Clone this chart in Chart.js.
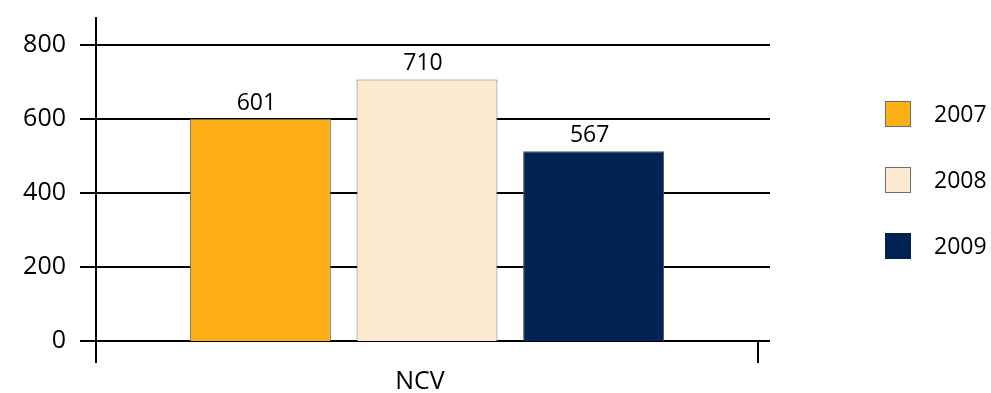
<!DOCTYPE html>
<html>
<head>
<meta charset="utf-8">
<script src="https://cdn.jsdelivr.net/npm/chart.js@4"></script>
<style>
  html, body { margin: 0; padding: 0; background: #fff; }
  #wrap { width: 991px; height: 393px; }
</style>
</head>
<body>
<div id="wrap"><canvas id="ncvChart" width="991" height="393"></canvas></div>
<script>
// data
const categories = ['NCV'];
const seriesNames = ['2007', '2008', '2009'];
const barHeights = [601, 707, 513];          // bar heights as drawn
const valueLabels = ['601', '710', '567'];   // numbers printed above the bars
const yTicks = [0, 200, 400, 600, 800];

const barColors = ['#FCAF17', '#FDEBD1', '#012353'];
const barBorders = ['#6f6f6f', '#6f6f6f', '#555555'];

const FONT = "'Open Sans', 'Noto Sans', sans-serif";

// grid lines, axis lines and end tick, drawn from the scales
const axisPlugin = {
  id: 'axisLines',
  beforeDatasetsDraw: (chart) => {
    const { ctx, chartArea, scales: { y } } = chart;
    ctx.save();
    ctx.strokeStyle = '#000';
    ctx.lineWidth = 2;
    yTicks.forEach(v => {
      const py = Math.round(y.getPixelForValue(v));
      ctx.beginPath();
      ctx.moveTo(chartArea.left - 16, py);
      ctx.lineTo(chartArea.right + 12, py);
      ctx.stroke();
    });
    ctx.restore();
  },
  afterDatasetsDraw: (chart) => {
    const { ctx, chartArea, scales: { y } } = chart;
    const base = Math.round(y.getPixelForValue(0));
    ctx.save();
    ctx.strokeStyle = '#000';
    ctx.lineWidth = 2;
    // vertical axis
    ctx.beginPath();
    ctx.moveTo(chartArea.left, chartArea.top - 28);
    ctx.lineTo(chartArea.left, base + 22);
    ctx.stroke();
    // right end tick of the category axis
    ctx.beginPath();
    ctx.moveTo(chartArea.right, base);
    ctx.lineTo(chartArea.right, base + 22);
    ctx.stroke();
    ctx.restore();
  }
};

// numbers above bars
const valueLabelPlugin = {
  id: 'valueLabels',
  afterDatasetsDraw: (chart) => {
    const { ctx } = chart;
    ctx.save();
    ctx.fillStyle = '#000';
    ctx.font = '23px ' + FONT;
    ctx.textAlign = 'center';
    ctx.textBaseline = 'bottom';
    chart.data.datasets.forEach((ds, i) => {
      const bar = chart.getDatasetMeta(i).data[0];
      ctx.fillText(valueLabels[i], bar.x - 4, bar.y - 4);
    });
    ctx.restore();
  }
};

// legend on the right
const legendPlugin = {
  id: 'sideLegend',
  afterDraw: (chart) => {
    const { ctx } = chart;
    ctx.save();
    ctx.font = '23px ' + FONT;
    ctx.textBaseline = 'middle';
    chart.data.datasets.forEach((ds, i) => {
      const cy = 114 + i * 66;
      ctx.fillStyle = ds.backgroundColor;
      ctx.fillRect(885, cy - 13, 26, 26);
      if (i < 2) {
        ctx.strokeStyle = '#6f6f6f';
        ctx.lineWidth = 1;
        ctx.strokeRect(885.5, cy - 12.5, 25, 25);
      }
      ctx.fillStyle = '#000';
      ctx.fillText(ds.label, 934, cy + 1);
    });
    ctx.restore();
  }
};

const datasets = seriesNames.map((name, i) => ({
  label: name,
  data: [barHeights[i]],
  backgroundColor: barColors[i],
  borderColor: barBorders[i],
  borderWidth: 1,
  categoryPercentage: 0.755,
  barPercentage: 0.846
}));

new Chart(document.getElementById('ncvChart'), {
  type: 'bar',
  data: { labels: categories, datasets: datasets },
  options: {
    responsive: false,
    animation: false,
    layout: { padding: { top: 40, right: 233, left: 0, bottom: 0 } },
    plugins: {
      legend: { display: false },
      tooltip: { enabled: false }
    },
    scales: {
      y: {
        min: 0,
        max: 800,
        afterBuildTicks: (scale) => { scale.ticks = yTicks.map(v => ({ value: v })); },
        afterFit: (scale) => { scale.width = 96; },
        grid: { display: false, drawTicks: false },
        border: { display: false },
        ticks: { color: '#000', font: { family: FONT, size: 25 }, padding: 30 }
      },
      x: {
        afterFit: (scale) => { scale.height = 52; },
        grid: { display: false, drawTicks: false },
        border: { display: false },
        ticks: { color: '#000', font: { family: FONT, size: 25 }, padding: 26, labelOffset: -7 }
      }
    }
  },
  plugins: [axisPlugin, valueLabelPlugin, legendPlugin]
});
</script>
</body>
</html>
